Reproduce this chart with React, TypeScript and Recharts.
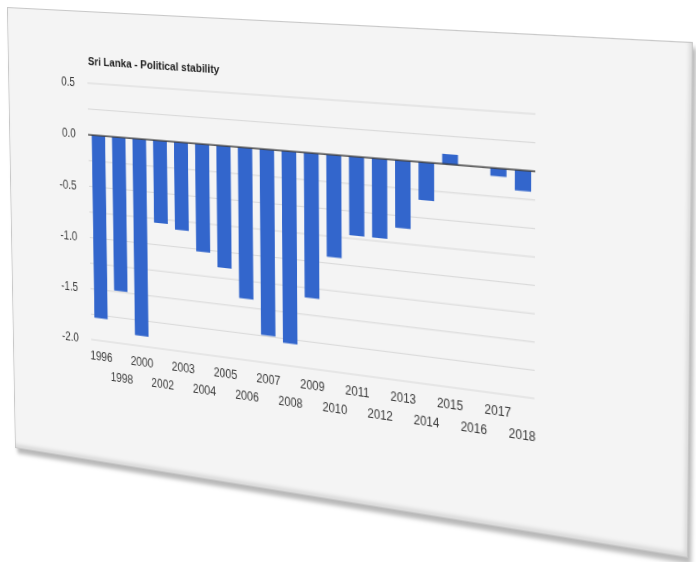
import React from "react";
import { BarChart, Bar, XAxis, YAxis, CartesianGrid, ReferenceLine } from "recharts";

const TITLE = "Sri Lanka - Political stability";
const YEARS = ["1996", "1998", "2000", "2002", "2003", "2004", "2005", "2006", "2007", "2008", "2009", "2010", "2011", "2012", "2013", "2014", "2015", "2016", "2017", "2018"];
const STABILITY = [-1.78, -1.49, -1.9, -0.79, -0.835, -1.02, -1.15, -1.42, -1.74, -1.79, -1.34, -0.94, -0.72, -0.72, -0.61, -0.34, 0.09, null, -0.07, -0.18];
const Y_TICKS = [0.5, 0.25, 0, -0.25, -0.5, -0.75, -1, -1.25, -1.5, -1.75, -2];

const data = YEARS.map((year, i) => ({ year, value: STABILITY[i] }));

// flat panel size, and where its corners land on the page (tilted slab)
const PW = 728;
const PH = 450;
const CORNERS: [number, number][] = [[7, 7], [693, 42], [688, 558], [15, 448]];
const FONT = "'Liberation Sans', Arial, sans-serif";
const TEXT = "#3a3a3a";

// square -> quad homography, written as a css matrix3d
function quadMatrix(w: number, h: number, q: [number, number][]) {
  const [[x0, y0], [x1, y1], [x2, y2], [x3, y3]] = q;
  const dx1 = x1 - x2, dx2 = x3 - x2, dx3 = x0 - x1 + x2 - x3;
  const dy1 = y1 - y2, dy2 = y3 - y2, dy3 = y0 - y1 + y2 - y3;
  const den = dx1 * dy2 - dx2 * dy1;
  const g = (dx3 * dy2 - dx2 * dy3) / den;
  const k = (dx1 * dy3 - dx3 * dy1) / den;
  const a = x1 - x0 + g * x1, b = x3 - x0 + k * x3;
  const d = y1 - y0 + g * y1, e = y3 - y0 + k * y3;
  return `matrix3d(${a / w},${d / w},0,${g / w},${b / h},${e / h},0,${k / h},0,0,1,0,${x0},${y0},0,1)`;
}

function YearTick(props: any) {
  const { x, y, payload, index } = props;
  const dy = index % 2 === 0 ? 15.5 : 34.5;
  return (
    <text x={x} y={y + dy} textAnchor="middle" dominantBaseline="central" fill={TEXT} fontSize={12} fontFamily={FONT}>
      {payload.value}
    </text>
  );
}

export default function App() {
  return (
    <div style={{ position: "absolute", left: 0, top: 0, width: 696, height: 562, background: "#fff", overflow: "hidden" }}>
      <div
        style={{
          position: "absolute",
          left: 0,
          top: 0,
          width: PW,
          height: PH,
          boxSizing: "border-box",
          background: "#f4f4f4",
          border: "1px solid #c8c8c8",
          boxShadow: "3px 5px 4px rgba(0,0,0,0.28), inset -2px -3px 4px rgba(0,0,0,0.12)",
          transformOrigin: "0 0",
          transform: quadMatrix(PW, PH, CORNERS),
        }}
      >
        <div style={{ position: "absolute", left: 97, top: 42, fontFamily: FONT, fontSize: 11.5, fontWeight: 700, color: "#222", whiteSpace: "nowrap" }}>
          {TITLE}
        </div>
        <div style={{ position: "absolute", left: -1, top: -1 }}>
          <BarChart width={PW} height={PH} data={data} margin={{ top: 71, right: 147, left: 0, bottom: 63 }} barCategoryGap="17.5%">
            <CartesianGrid horizontal vertical={false} stroke="#d8d8d8" />
            <XAxis dataKey="year" interval={0} height={60} axisLine={false} tickLine={false} tickSize={0} tickMargin={0} tick={<YearTick />} />
            <YAxis
              domain={[-2, 0.5]}
              ticks={Y_TICKS}
              width={97}
              axisLine={false}
              tickLine={false}
              tickMargin={9}
              interval={0}
              tickFormatter={(v: number) => (Math.abs(v * 2 - Math.round(v * 2)) < 1e-9 ? v.toFixed(1) : "")}
              tick={{ fill: TEXT, fontSize: 12, fontFamily: FONT }}
            />
            <Bar dataKey="value" fill="#3366cc" isAnimationActive={false} />
            <ReferenceLine y={0} stroke="#333" strokeWidth={1.2} />
          </BarChart>
        </div>
      </div>
    </div>
  );
}
